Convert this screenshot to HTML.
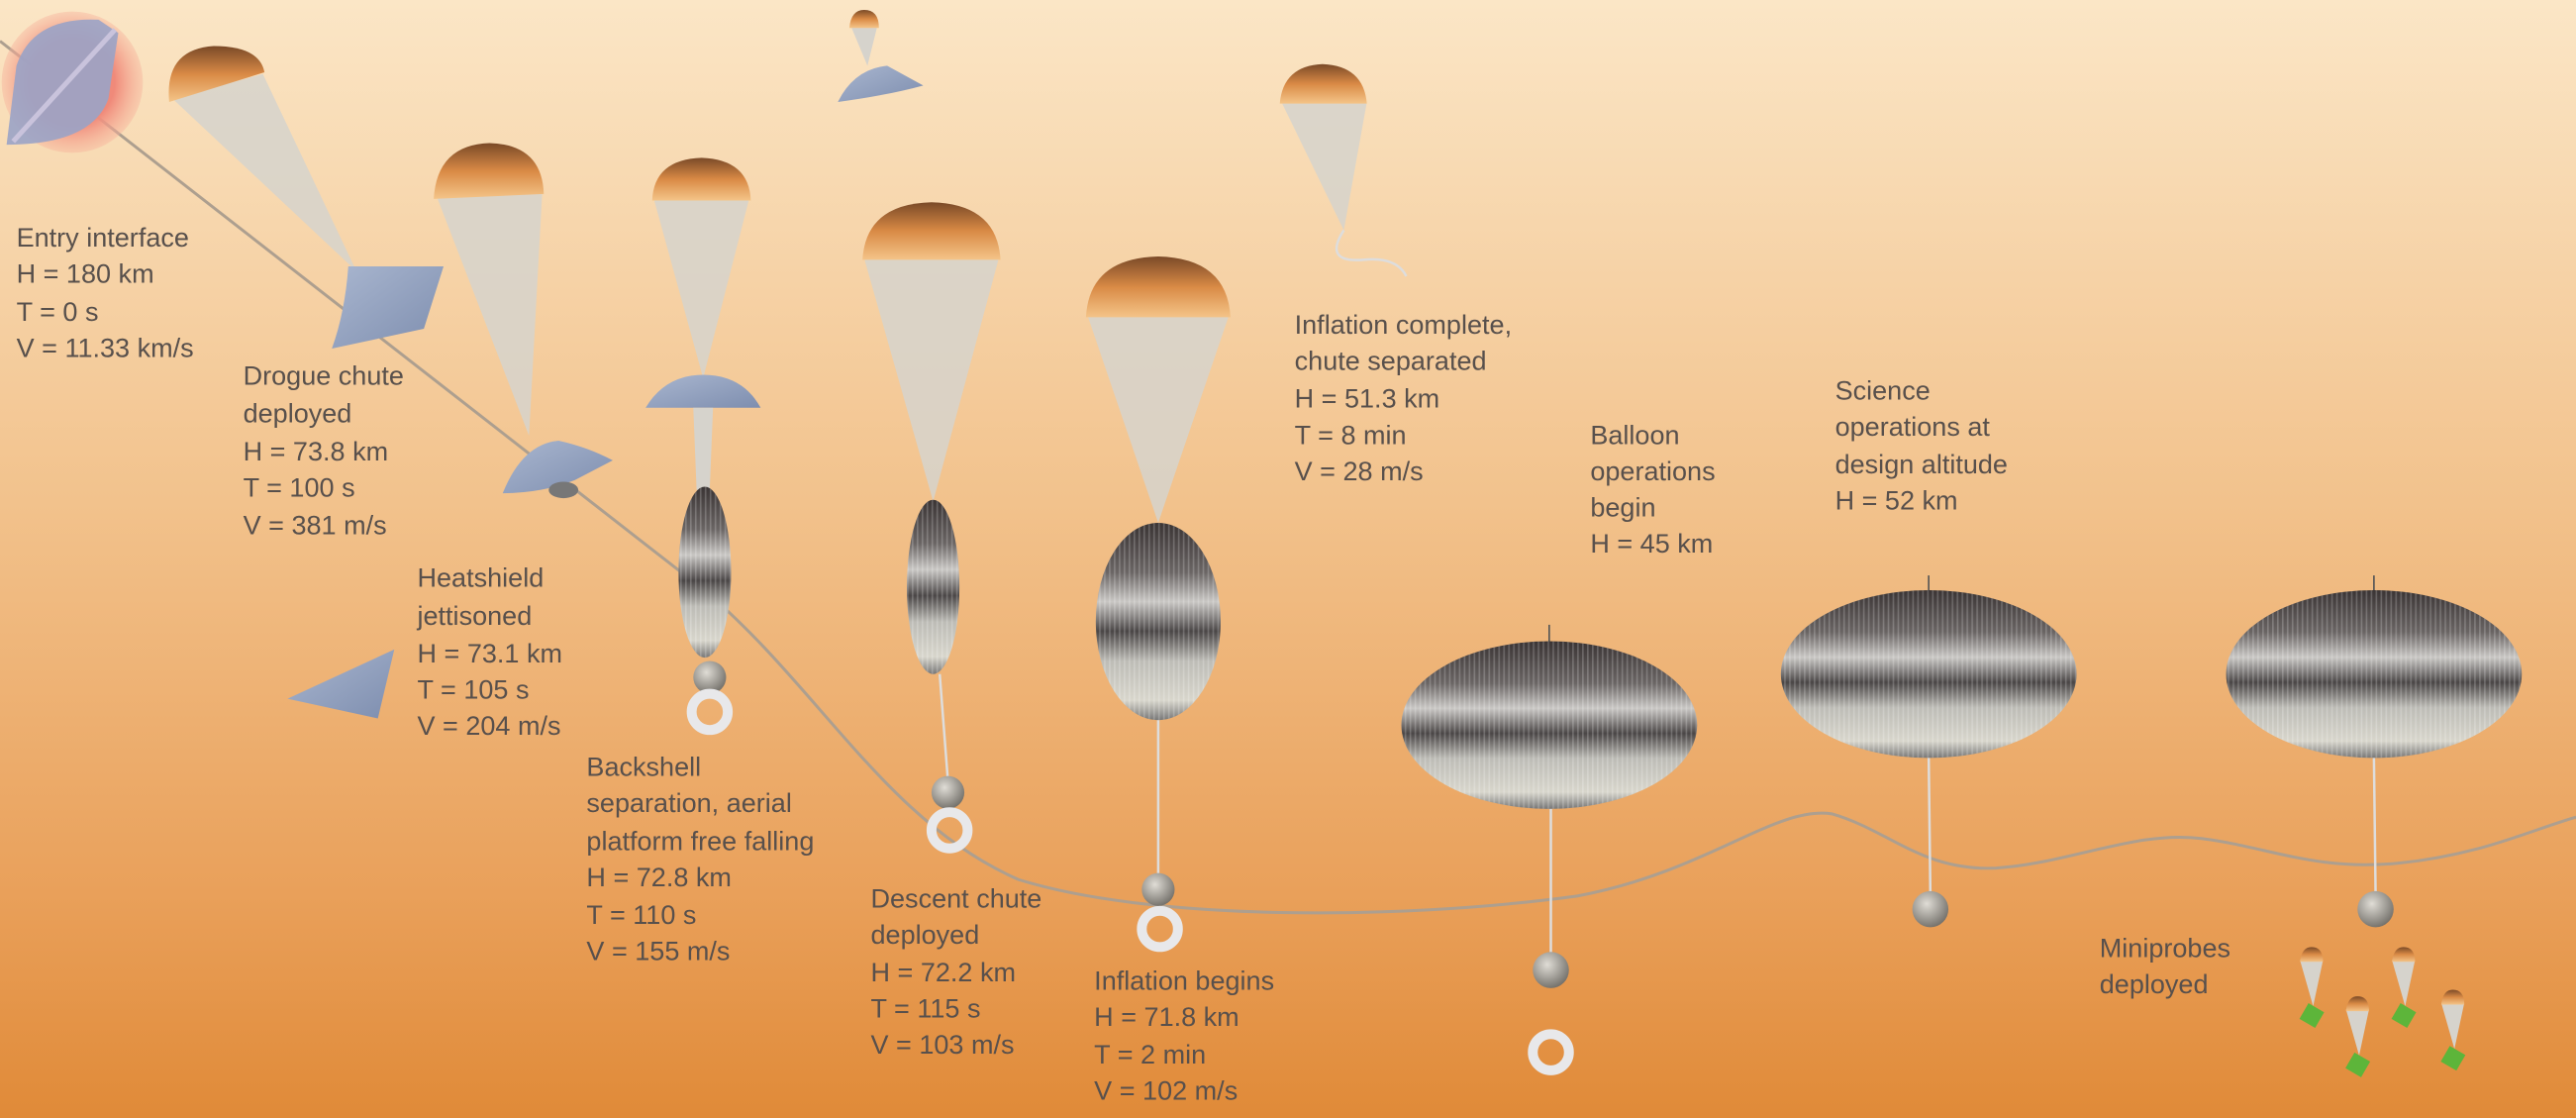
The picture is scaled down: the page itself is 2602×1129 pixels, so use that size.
<!DOCTYPE html>
<html><head><meta charset="utf-8"><style>
html,body{margin:0;padding:0;width:2602px;height:1129px;overflow:hidden}
svg{display:block}
text{font-family:"Liberation Sans",sans-serif;font-size:16.3px;fill:#58504c}
</style></head><body>
<svg width="2602" height="1129" viewBox="0 0 1568 680" preserveAspectRatio="none">
<defs>
<linearGradient id="bg" x1="0" y1="0" x2="0" y2="1">
<stop offset="0" stop-color="#fbe6c6"/><stop offset="0.45" stop-color="#f2c28c"/><stop offset="0.8" stop-color="#e9a05a"/><stop offset="1" stop-color="#e08a38"/></linearGradient>
<linearGradient id="can" x1="0" y1="0" x2="0" y2="1"><stop offset="0" stop-color="#7a4a28"/><stop offset="0.5" stop-color="#d98a45"/><stop offset="1" stop-color="#f4c488"/></linearGradient>
<linearGradient id="bal" x1="0" y1="0" x2="0" y2="1"><stop offset="0" stop-color="#3a3434"/><stop offset="0.25" stop-color="#6a6564"/><stop offset="0.4" stop-color="#c9c7c4"/><stop offset="0.55" stop-color="#4a4646"/><stop offset="0.7" stop-color="#bdbcb6"/><stop offset="0.9" stop-color="#d8d6cc"/><stop offset="1" stop-color="#777"/></linearGradient>
<pattern id="str" width="3" height="10" patternUnits="userSpaceOnUse"><rect width="1" height="10" fill="#fff" opacity="0.2"/></pattern>
<radialGradient id="sph" cx="0.4" cy="0.35" r="0.7"><stop offset="0" stop-color="#e0ddd6"/><stop offset="1" stop-color="#6f6c66"/></radialGradient>
<linearGradient id="cap" x1="0" y1="0" x2="1" y2="1"><stop offset="0" stop-color="#a9b6cf"/><stop offset="1" stop-color="#7e8eaf"/></linearGradient>
<radialGradient id="glow"><stop offset="0.6" stop-color="#f08a7a"/><stop offset="1" stop-color="#f6b09a" stop-opacity="0.4"/></radialGradient>
</defs>
<rect width="1568" height="680" fill="url(#bg)"/>
<path d="M0,25 L430,360 C500,420 540,500 620,535 C700,560 850,560 960,545 C1040,530 1080,490 1115,495 C1150,505 1170,530 1215,528 C1260,525 1300,505 1340,510 C1380,515 1410,530 1460,525 C1510,520 1540,505 1568,497" fill="none" stroke="#ad9f8f" stroke-width="1.8"/>
<circle cx="44" cy="50" r="43" fill="url(#glow)"/>
<path d="M4,88 L10,40 Q20,10 60,12 L72,20 L66,60 Q56,88 4,88Z" fill="#9aa3c6" opacity="0.9"/>
<path d="M8,86 L70,18" stroke="#c9c3dc" stroke-width="3"/>
<path d="M105,60 L160,45 L217,165 Z" fill="#d6d3cc" opacity="0.85"/>
<path d="M103,62 Q100,30 130,28 Q158,28 161,44 Z" fill="url(#can)"/>
<path d="M212,162 L270,162 L258,200 L202,212 Q210,190 212,162Z" fill="url(#cap)"/>
<path d="M266,120 L330,118 L322,265 Z" fill="#d6d3cc" opacity="0.85"/>
<path d="M264,121 Q266,88 298,87 Q330,88 331,118 Z" fill="url(#can)"/>
<path d="M306,300 Q318,270 340,268 Q358,272 373,280 L350,292 Q330,300 306,300Z" fill="url(#cap)"/>
<ellipse cx="343" cy="298" rx="9" ry="5" fill="#777"/>
<path d="M398,121 L456,121 L428,230 Z" fill="#d6d3cc" opacity="0.85"/>
<path d="M397,122 Q398,97 427,96 Q456,97 457,122 Z" fill="url(#can)"/>
<path d="M393,248 Q405,228 428,228 Q452,228 463,248 Z" fill="url(#cap)"/>
<path d="M422,248 L434,248 L432,298 L424,298Z" fill="#d6d3cc"/>
<ellipse cx="429" cy="348" rx="16" ry="52" fill="url(#bal)"/><ellipse cx="429" cy="348" rx="16" ry="52" fill="url(#str)"/>
<circle cx="432" cy="412" r="10" fill="url(#sph)"/>
<circle cx="432" cy="433" r="11" fill="none" stroke="#e8e8ea" stroke-width="6"/>
<path d="M518,16 L534,16 L528,40 Z" fill="#d6d3cc"/>
<path d="M517,17 Q518,6 526,6 Q535,6 535,17Z" fill="url(#can)"/>
<path d="M510,62 Q520,42 540,40 L562,52 Q540,58 510,62Z" fill="url(#cap)"/>
<path d="M175,425 L240,395 L230,437 Z" fill="url(#cap)"/>
<path d="M526,157 L608,157 L568,305 Z" fill="#d6d3cc" opacity="0.85"/>
<path d="M525,158 Q527,124 567,123 Q607,124 609,158 Z" fill="url(#can)"/>
<ellipse cx="568" cy="357" rx="16" ry="53" fill="url(#bal)"/><ellipse cx="568" cy="357" rx="16" ry="53" fill="url(#str)"/>
<line x1="572" y1="410" x2="577" y2="475" stroke="#ddd" stroke-width="1.5"/>
<circle cx="577" cy="482" r="10" fill="url(#sph)"/>
<circle cx="578" cy="505" r="11" fill="none" stroke="#e8e8ea" stroke-width="6"/>
<path d="M662,192 L748,192 L705,318 Z" fill="#d6d3cc" opacity="0.85"/>
<path d="M661,193 Q663,157 705,156 Q747,157 749,193 Z" fill="url(#can)"/>
<ellipse cx="705" cy="378" rx="38" ry="60" fill="url(#bal)"/><ellipse cx="705" cy="378" rx="38" ry="60" fill="url(#str)"/>
<line x1="705" y1="438" x2="705" y2="532" stroke="#ddd" stroke-width="1.5"/>
<circle cx="705" cy="541" r="10" fill="url(#sph)"/>
<circle cx="706" cy="565" r="11" fill="none" stroke="#e8e8ea" stroke-width="6"/>
<path d="M780,62 L832,62 L818,140 Z" fill="#d6d3cc" opacity="0.85"/>
<path d="M779,63 Q781,40 805,39 Q830,40 832,63Z" fill="url(#can)"/>
<path d="M818,140 Q805,160 830,158 Q850,156 856,168" fill="none" stroke="#ddd" stroke-width="1.5"/>
<line x1="943" y1="380" x2="943" y2="390" stroke="#555"/>
<ellipse cx="943" cy="441" rx="90" ry="51" fill="url(#bal)"/><ellipse cx="943" cy="441" rx="90" ry="51" fill="url(#str)"/>
<line x1="944" y1="492" x2="944" y2="582" stroke="#ddd" stroke-width="1.5"/>
<circle cx="944" cy="590" r="11" fill="url(#sph)"/>
<circle cx="944" cy="640" r="11" fill="none" stroke="#e8e8ea" stroke-width="6"/>
<line x1="1174" y1="350" x2="1174" y2="360" stroke="#555"/>
<ellipse cx="1174" cy="410" rx="90" ry="51" fill="url(#bal)"/><ellipse cx="1174" cy="410" rx="90" ry="51" fill="url(#str)"/>
<line x1="1174" y1="461" x2="1175" y2="543" stroke="#ddd" stroke-width="1.5"/>
<circle cx="1175" cy="553" r="11" fill="url(#sph)"/>
<line x1="1445" y1="350" x2="1445" y2="360" stroke="#555"/>
<ellipse cx="1445" cy="410" rx="90" ry="51" fill="url(#bal)"/><ellipse cx="1445" cy="410" rx="90" ry="51" fill="url(#str)"/>
<line x1="1445" y1="461" x2="1446" y2="543" stroke="#ddd" stroke-width="1.5"/>
<circle cx="1446" cy="553" r="11" fill="url(#sph)"/>
<g id="mp"><path d="M1400,584 L1414,584 L1408,612Z" fill="#d6d3cc"/><path d="M1400,585 Q1401,576 1407,576 Q1414,576 1414,585Z" fill="url(#can)"/><rect x="1402" y="612" width="11" height="11" fill="#5db53a" transform="rotate(30 1407 617)"/></g>
<use href="#mp" x="28" y="30"/><use href="#mp" x="56" y="0"/><use href="#mp" x="86" y="26"/>
<text x="10" y="150">Entry interface</text><text x="10" y="172">H = 180 km</text><text x="10" y="195">T = 0 s</text><text x="10" y="217">V = 11.33 km/s</text>
<text x="148" y="234">Drogue chute</text><text x="148" y="257">deployed</text><text x="148" y="280">H = 73.8 km</text><text x="148" y="302">T = 100 s</text><text x="148" y="325">V = 381 m/s</text>
<text x="254" y="357">Heatshield</text><text x="254" y="380">jettisoned</text><text x="254" y="403">H = 73.1 km</text><text x="254" y="425">T = 105 s</text><text x="254" y="447">V = 204 m/s</text>
<text x="357" y="472">Backshell</text><text x="357" y="494">separation, aerial</text><text x="357" y="517">platform free falling</text><text x="357" y="539">H = 72.8 km</text><text x="357" y="562">T = 110 s</text><text x="357" y="584">V = 155 m/s</text>
<text x="530" y="552">Descent chute</text><text x="530" y="574">deployed</text><text x="530" y="597">H = 72.2 km</text><text x="530" y="619">T = 115 s</text><text x="530" y="641">V = 103 m/s</text>
<text x="666" y="602">Inflation begins</text><text x="666" y="624">H = 71.8 km</text><text x="666" y="647">T = 2 min</text><text x="666" y="669">V = 102 m/s</text>
<text x="788" y="203">Inflation complete,</text><text x="788" y="225">chute separated</text><text x="788" y="248">H = 51.3 km</text><text x="788" y="270">T = 8 min</text><text x="788" y="292">V = 28 m/s</text>
<text x="968" y="270">Balloon</text><text x="968" y="292">operations</text><text x="968" y="314">begin</text><text x="968" y="336">H = 45 km</text>
<text x="1117" y="243">Science</text><text x="1117" y="265">operations at</text><text x="1117" y="288">design altitude</text><text x="1117" y="310">H = 52 km</text>
<text x="1278" y="582">Miniprobes</text><text x="1278" y="604">deployed</text>
</svg>
</body></html>
